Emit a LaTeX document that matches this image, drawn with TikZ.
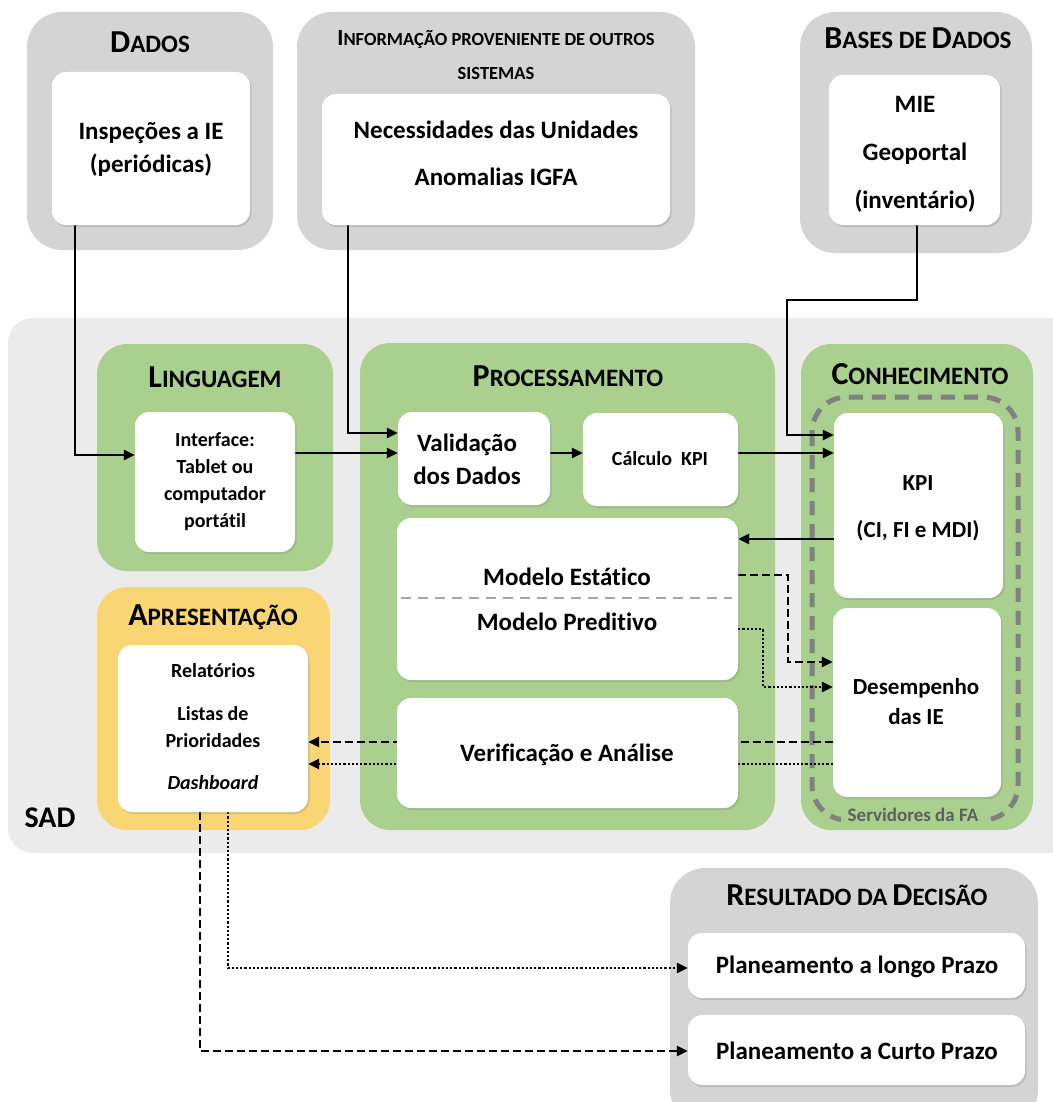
\documentclass[tikz,border=0pt]{standalone}
\usepackage{fontspec}
\setmainfont{Carlito}[Ligatures={NoCommon}]
\usetikzlibrary{arrows.meta,shadows,fit,calc}

\definecolor{topgray}{HTML}{D4D4D4}
\definecolor{sadgray}{HTML}{EBEBEB}
\definecolor{layergreen}{HTML}{A9D08E}
\definecolor{layeryellow}{HTML}{F9D673}
\definecolor{servergray}{HTML}{808080}
\definecolor{sepgray}{HTML}{A6A6A6}
\definecolor{labelgray}{HTML}{5F5F5F}

% small-caps style headings: large initial, smaller capitals
\newcommand\hcapA[1]{{\fontsize{32}{36}\selectfont #1}}
\newcommand\hcapB[1]{{\fontsize{25}{30}\selectfont #1}}
\newcommand\hcapC[1]{{\fontsize{23}{26}\selectfont #1}}
\newcommand\hcapD[1]{{\fontsize{18.5}{22}\selectfont #1}}

\pgfdeclarelayer{back}
\pgfdeclarelayer{links}
\pgfsetlayers{back,links,main}

\begin{document}
\begin{tikzpicture}[x=1pt,y=-1pt,
  container/.style={fill=topgray, rounded corners=35pt, inner sep=0pt},
  layer/.style={rounded corners=30pt, inner sep=0pt},
  whitebox/.style={fill=white, rounded corners=14pt, inner sep=0pt,
    drop shadow={opacity=0.28, shadow xshift=1.5pt, shadow yshift=-2pt}},
  boxtext/.style={inner sep=0pt, align=center, font=\bfseries\fontsize{25}{33}\selectfont},
  smalltext/.style={boxtext, font=\bfseries\fontsize{20}{27}\selectfont},
  heading/.style={font=\bfseries, inner sep=0pt, align=center},
  conn/.style={line width=2.7pt, -{Triangle[length=11pt,width=10pt]}},
  dashconn/.style={conn, line width=2.4pt, dash pattern=on 8pt off 4pt},
  dotconn/.style={conn, line width=2.4pt, dash pattern=on 2.2pt off 2pt},
]
\useasboundingbox (0,0) rectangle (1052,1102);

% ================= background: areas and containers
\begin{pgfonlayer}{back}
\node[fill=sadgray, rounded corners=25pt, inner sep=0pt, fit={(8,318) (1075,853)}] (sad) {};
\node[font=\bfseries\fontsize{30}{34}\selectfont, inner sep=0pt] (sadlabel) at (50,818) {SAD};

\node[container, fit={(27,12) (273,250)}] (gDados) {};
\node[container, fit={(297,12) (695,250)}] (gInfo) {};
\node[container, fit={(800,12) (1032,253)}] (gBases) {};
\node[container, fit={(670,868) (1038,1125)}] (gRes) {};

\node[heading] (tDados) at (150,42) {\hcapA{D}\hcapB{ADOS}};
\node[heading] (tInfo1) at (496,40) {\hcapC{I}\hcapD{NFORMAÇÃO PROVENIENTE DE OUTROS}};
\node[heading] (tInfo2) at (496,73) {\hcapD{SISTEMAS}};
\node[heading] (tBases) at (918,38) {\hcapA{B}\hcapB{ASES DE}\hspace{5pt}\hcapA{D}\hcapB{ADOS}};
\node[heading] (tRes) at (857,895) {\hcapA{R}\hcapB{ESULTADO DA}\hspace{5pt}\hcapA{D}\hcapB{ECISÃO}};

\node[layer, fill=layergreen, fit={(97,344) (333,571)}] (gLing) {};
\node[layer, fill=layergreen, fit={(360,343) (775,830)}] (gProc) {};
\node[layer, fill=layergreen, fit={(801,344) (1033,830)}] (gKnow) {};
\node[layer, fill=layeryellow, fit={(97,587) (330,830)}] (gApr) {};

\node[heading] (tLing) at (215,377) {\hcapA{L}\hcapB{INGUAGEM}};
\node[heading] (tProc) at (568,376) {\hcapA{P}\hcapB{ROCESSAMENTO}};
\node[heading] (tKnow) at (920,374) {\hcapA{C}\hcapB{ONHECIMENTO}};
\node[heading] (tApr) at (213,617) {\hcapA{A}\hcapB{PRESENTAÇÃO}};

% servers boundary with its caption
\draw[servergray, line width=5pt, dash pattern=on 14pt off 9pt, rounded corners=35pt]
  (812,397) rectangle (1018,820);
\node[fill=layergreen, text=labelgray, font=\bfseries\fontsize{19}{22}\selectfont,
  inner xsep=7pt, inner ysep=3pt] (servers) at (913,815) {Servidores da FA};
\end{pgfonlayer}

% ================= white boxes
\node[whitebox, fit={(52,72) (250,225)}] (wDados) {};
\node[whitebox, fit={(322,94) (670,225)}] (wInfo) {};
\node[whitebox, fit={(829,75) (1000,225)}] (wBases) {};
\node[whitebox, fit={(135,412) (295,552)}] (wIface) {};
\node[whitebox, fit={(398,412) (550,505)}] (wValid) {};
\node[whitebox, fit={(583,413) (738,506)}] (wCalc) {};
\node[whitebox, fit={(397,518) (738,680)}] (wModel) {};
\node[whitebox, fit={(397,698) (738,808)}] (wVerif) {};
\node[whitebox, fit={(834,413) (1003,598)}] (wKPI) {};
\node[whitebox, fit={(833,608) (1001,797)}] (wDesemp) {};
\node[whitebox, fit={(118,645) (308,812)}] (wApr) {};
\node[whitebox, fit={(688,933) (1025,998)}] (wLong) {};
\node[whitebox, fit={(688,1015) (1025,1085)}] (wShort) {};

% texts of the white boxes
\node[boxtext] (xDados) at (151,149) {Inspeções a IE\\(periódicas)};
\node[boxtext] (xInfo) at (496,153) {Necessidades das Unidades\\[14pt]Anomalias IGFA};
\node[boxtext] (xBases) at (915,154) {MIE\\[15pt]Geoportal\\[15pt](inventário)};
\node[smalltext] (xIface) at (215,482) {Interface:\\Tablet ou\\computador\\portátil};
\node[boxtext] (xValid) at (467,459) {Validação\\dos Dados};
\node[smalltext] (xCalc) at (660,459) {Cálculo~~KPI};
\node[boxtext] (xStatic) at (567,577) {Modelo Estático};
\node[boxtext] (xPred) at (567,622) {Modelo Preditivo};
\coordinate (sep) at (0,598);
\draw[sepgray, line width=2pt, dash pattern=on 10pt off 7pt]
  ([xshift=4pt]wModel.west |- sep) -- ([xshift=-6pt]wModel.east |- sep);
\node[boxtext] (xVerif) at (567,755) {Verificação e Análise};
\node[boxtext, font=\bfseries\fontsize{23}{33}\selectfont] (xKPI) at (918,508) {KPI\\[14pt](CI, FI e MDI)};
\node[boxtext, font=\bfseries\fontsize{23}{30}\selectfont] (xDesemp) at (916,702) {Desempenho\\das IE};
\node[smalltext] (xApr) at (213,727) {Relatórios\\[16pt]Listas de\\Prioridades\\[15pt]\textit{Dashboard}};
\node[boxtext] (xLong) at (857,967) {Planeamento a longo Prazo};
\node[boxtext] (xShort) at (857,1051) {Planeamento a Curto Prazo};

% ================= connectors
\coordinate (b1) at (75,455);
\coordinate (b2) at (348,433);
\coordinate (b3) at (0,453);
\coordinate (b6a) at (917,300);
\coordinate (b6b) at (787,435);
\coordinate (b7) at (0,539);
\coordinate (b8a) at (788,575);
\coordinate (b8b) at (0,662);
\coordinate (b9a) at (763,629);
\coordinate (b9b) at (0,687);
\coordinate (b10) at (0,742);
\coordinate (b11) at (0,764);
\coordinate (b12) at (200,1051);
\coordinate (b13) at (228,968);

\begin{pgfonlayer}{links}
\draw[conn] (wDados.south -| b1) |- (wIface.west |- b1);
\draw[conn] (wInfo.south -| b2) |- (wValid.west |- b2);
\draw[conn] (wIface.east |- b3) -- (wValid.west |- b3);
\draw[conn] (wValid.east |- b3) -- (wCalc.west |- b3);
\draw[conn] (wCalc.east |- b3) -- (wKPI.west |- b3);
\draw[conn] (wBases.south -| b6a) -- (b6a) -| (b6b) -- (wKPI.west |- b6b);
\draw[conn] (wKPI.west |- b7) -- (wModel.east |- b7);
\draw[dashconn] (wModel.east |- b8a) -| (b8a |- b8b) -- (wDesemp.west |- b8b);
\draw[dotconn] (wModel.east |- b9a) -| (b9a |- b9b) -- (wDesemp.west |- b9b);
\draw[dashconn] (wDesemp.west |- b10) -- (wApr.east |- b10);
\draw[dotconn] (wDesemp.west |- b11) -- (wApr.east |- b11);
\draw[dashconn] (wApr.south -| b12) |- (wShort.west |- b12);
\draw[dotconn] (wApr.south -| b13) |- (wLong.west |- b13);
\end{pgfonlayer}

\end{tikzpicture}
\end{document}
